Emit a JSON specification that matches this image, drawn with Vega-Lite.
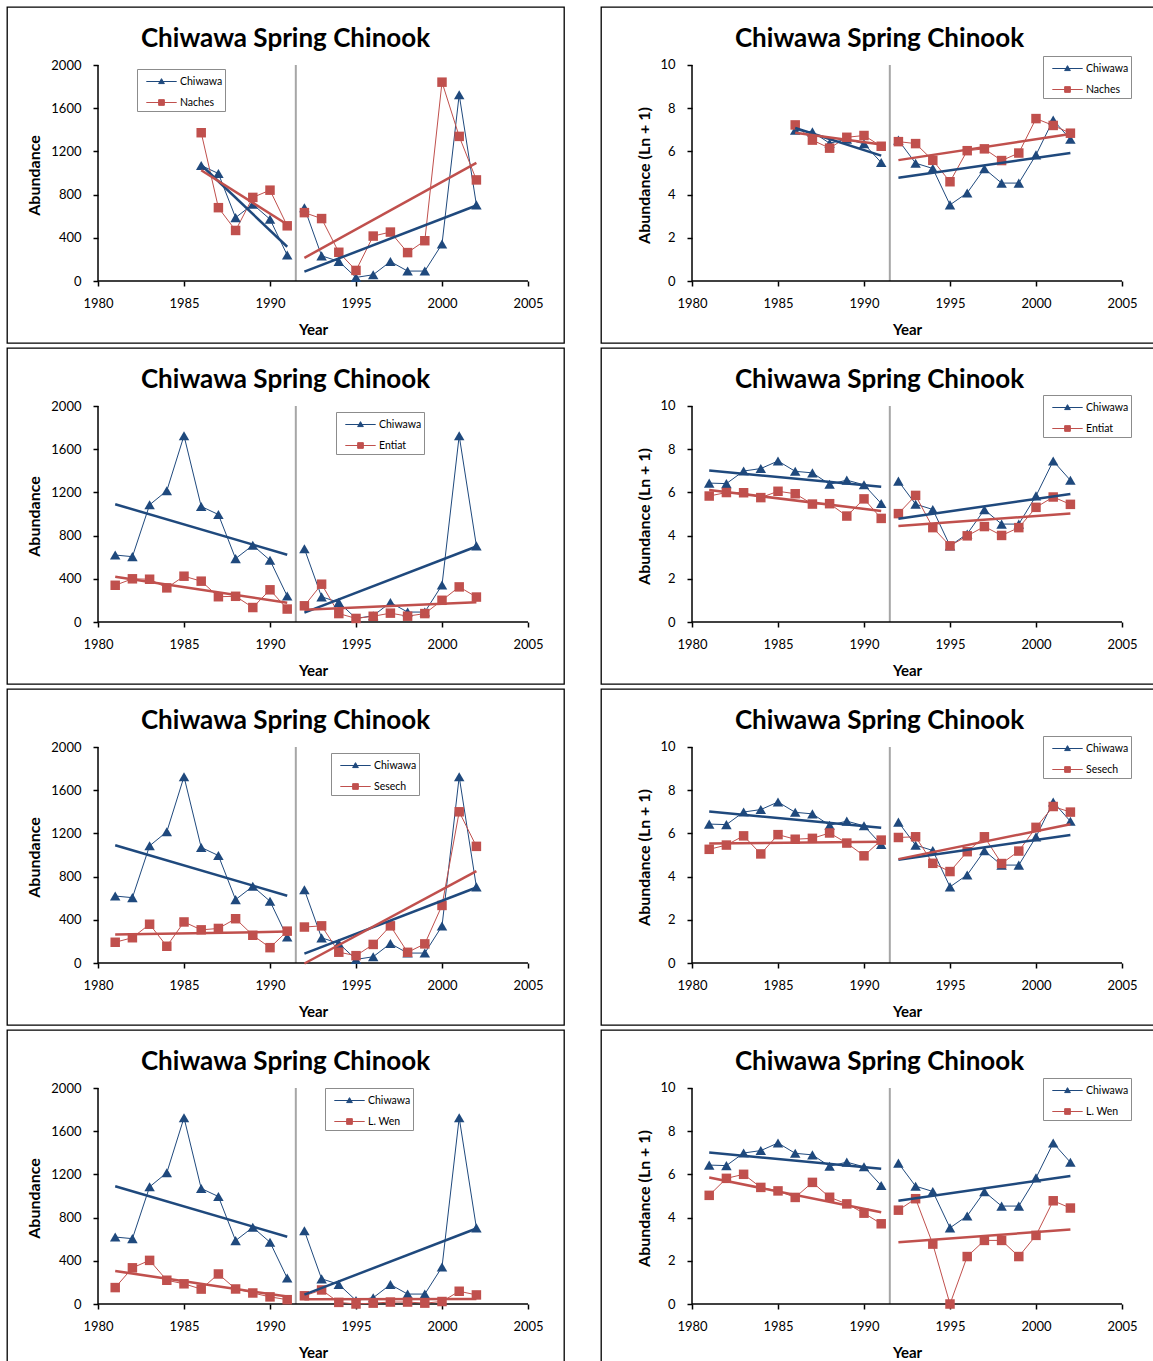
{
"$schema": "https://vega.github.io/schema/vega-lite/v6.json",
"padding": {"left": 6, "top": 6, "right": 0, "bottom": 0},
"background": "white",
"datasets": {"fish": [
{"year":1981,"series":"Chiwawa","seg":"a","abund":620,"ln":6.431},
{"year":1982,"series":"Chiwawa","seg":"a","abund":605,"ln":6.407},
{"year":1983,"series":"Chiwawa","seg":"a","abund":1085,"ln":6.990},
{"year":1984,"series":"Chiwawa","seg":"a","abund":1215,"ln":7.103},
{"year":1985,"series":"Chiwawa","seg":"a","abund":1725,"ln":7.454},
{"year":1986,"series":"Chiwawa","seg":"a","abund":1070,"ln":6.976},
{"year":1987,"series":"Chiwawa","seg":"a","abund":995,"ln":6.904},
{"year":1988,"series":"Chiwawa","seg":"a","abund":587,"ln":6.377},
{"year":1989,"series":"Chiwawa","seg":"a","abund":710,"ln":6.567},
{"year":1990,"series":"Chiwawa","seg":"a","abund":572,"ln":6.351},
{"year":1991,"series":"Chiwawa","seg":"a","abund":240,"ln":5.485},
{"year":1992,"series":"Chiwawa","seg":"b","abund":678,"ln":6.521},
{"year":1993,"series":"Chiwawa","seg":"b","abund":233,"ln":5.455},
{"year":1994,"series":"Chiwawa","seg":"b","abund":182,"ln":5.209},
{"year":1995,"series":"Chiwawa","seg":"b","abund":33,"ln":3.526},
{"year":1996,"series":"Chiwawa","seg":"b","abund":58,"ln":4.078},
{"year":1997,"series":"Chiwawa","seg":"b","abund":180,"ln":5.198},
{"year":1998,"series":"Chiwawa","seg":"b","abund":92,"ln":4.533},
{"year":1999,"series":"Chiwawa","seg":"b","abund":92,"ln":4.533},
{"year":2000,"series":"Chiwawa","seg":"b","abund":342,"ln":5.838},
{"year":2001,"series":"Chiwawa","seg":"b","abund":1725,"ln":7.454},
{"year":2002,"series":"Chiwawa","seg":"b","abund":705,"ln":6.560},
{"year":1986,"series":"Naches","seg":"a","abund":1373,"ln":7.226},
{"year":1987,"series":"Naches","seg":"a","abund":679,"ln":6.522},
{"year":1988,"series":"Naches","seg":"a","abund":468,"ln":6.151},
{"year":1989,"series":"Naches","seg":"a","abund":774,"ln":6.653},
{"year":1990,"series":"Naches","seg":"a","abund":841,"ln":6.736},
{"year":1991,"series":"Naches","seg":"a","abund":511,"ln":6.238},
{"year":1992,"series":"Naches","seg":"b","abund":633,"ln":6.452},
{"year":1993,"series":"Naches","seg":"b","abund":578,"ln":6.361},
{"year":1994,"series":"Naches","seg":"b","abund":266,"ln":5.587},
{"year":1995,"series":"Naches","seg":"b","abund":98,"ln":4.595},
{"year":1996,"series":"Naches","seg":"b","abund":416,"ln":6.033},
{"year":1997,"series":"Naches","seg":"b","abund":453,"ln":6.118},
{"year":1998,"series":"Naches","seg":"b","abund":263,"ln":5.576},
{"year":1999,"series":"Naches","seg":"b","abund":373,"ln":5.924},
{"year":2000,"series":"Naches","seg":"b","abund":1841,"ln":7.519},
{"year":2001,"series":"Naches","seg":"b","abund":1339,"ln":7.201},
{"year":2002,"series":"Naches","seg":"b","abund":936,"ln":6.843},
{"year":1981,"series":"Entiat","seg":"a","abund":340,"ln":5.832},
{"year":1982,"series":"Entiat","seg":"a","abund":400,"ln":5.994},
{"year":1983,"series":"Entiat","seg":"a","abund":396,"ln":5.984},
{"year":1984,"series":"Entiat","seg":"a","abund":316,"ln":5.759},
{"year":1985,"series":"Entiat","seg":"a","abund":424,"ln":6.052},
{"year":1986,"series":"Entiat","seg":"a","abund":378,"ln":5.938},
{"year":1987,"series":"Entiat","seg":"a","abund":234,"ln":5.460},
{"year":1988,"series":"Entiat","seg":"a","abund":238,"ln":5.477},
{"year":1989,"series":"Entiat","seg":"a","abund":134,"ln":4.905},
{"year":1990,"series":"Entiat","seg":"a","abund":298,"ln":5.700},
{"year":1991,"series":"Entiat","seg":"a","abund":120,"ln":4.796},
{"year":1992,"series":"Entiat","seg":"b","abund":150,"ln":5.017},
{"year":1993,"series":"Entiat","seg":"b","abund":350,"ln":5.861},
{"year":1994,"series":"Entiat","seg":"b","abund":78,"ln":4.369},
{"year":1995,"series":"Entiat","seg":"b","abund":33,"ln":3.526},
{"year":1996,"series":"Entiat","seg":"b","abund":53,"ln":3.989},
{"year":1997,"series":"Entiat","seg":"b","abund":82,"ln":4.419},
{"year":1998,"series":"Entiat","seg":"b","abund":54,"ln":4.007},
{"year":1999,"series":"Entiat","seg":"b","abund":78,"ln":4.369},
{"year":2000,"series":"Entiat","seg":"b","abund":201,"ln":5.308},
{"year":2001,"series":"Entiat","seg":"b","abund":325,"ln":5.787},
{"year":2002,"series":"Entiat","seg":"b","abund":231,"ln":5.447},
{"year":1981,"series":"Sesech","seg":"a","abund":192,"ln":5.263},
{"year":1982,"series":"Sesech","seg":"a","abund":234,"ln":5.460},
{"year":1983,"series":"Sesech","seg":"a","abund":359,"ln":5.886},
{"year":1984,"series":"Sesech","seg":"a","abund":155,"ln":5.050},
{"year":1985,"series":"Sesech","seg":"a","abund":380,"ln":5.943},
{"year":1986,"series":"Sesech","seg":"a","abund":307,"ln":5.730},
{"year":1987,"series":"Sesech","seg":"a","abund":320,"ln":5.771},
{"year":1988,"series":"Sesech","seg":"a","abund":410,"ln":6.019},
{"year":1989,"series":"Sesech","seg":"a","abund":257,"ln":5.553},
{"year":1990,"series":"Sesech","seg":"a","abund":142,"ln":4.963},
{"year":1991,"series":"Sesech","seg":"a","abund":295,"ln":5.690},
{"year":1992,"series":"Sesech","seg":"b","abund":333,"ln":5.811},
{"year":1993,"series":"Sesech","seg":"b","abund":344,"ln":5.844},
{"year":1994,"series":"Sesech","seg":"b","abund":100,"ln":4.615},
{"year":1995,"series":"Sesech","seg":"b","abund":68,"ln":4.234},
{"year":1996,"series":"Sesech","seg":"b","abund":172,"ln":5.153},
{"year":1997,"series":"Sesech","seg":"b","abund":344,"ln":5.844},
{"year":1998,"series":"Sesech","seg":"b","abund":99,"ln":4.605},
{"year":1999,"series":"Sesech","seg":"b","abund":177,"ln":5.182},
{"year":2000,"series":"Sesech","seg":"b","abund":533,"ln":6.280},
{"year":2001,"series":"Sesech","seg":"b","abund":1400,"ln":7.245},
{"year":2002,"series":"Sesech","seg":"b","abund":1080,"ln":6.986},
{"year":1981,"series":"L. Wen","seg":"a","abund":152,"ln":5.030},
{"year":1982,"series":"L. Wen","seg":"a","abund":335,"ln":5.817},
{"year":1983,"series":"L. Wen","seg":"a","abund":404,"ln":6.004},
{"year":1984,"series":"L. Wen","seg":"a","abund":220,"ln":5.398},
{"year":1985,"series":"L. Wen","seg":"a","abund":187,"ln":5.236},
{"year":1986,"series":"L. Wen","seg":"a","abund":138,"ln":4.934},
{"year":1987,"series":"L. Wen","seg":"a","abund":278,"ln":5.631},
{"year":1988,"series":"L. Wen","seg":"a","abund":139,"ln":4.942},
{"year":1989,"series":"L. Wen","seg":"a","abund":102,"ln":4.635},
{"year":1990,"series":"L. Wen","seg":"a","abund":66,"ln":4.205},
{"year":1991,"series":"L. Wen","seg":"a","abund":40,"ln":3.714},
{"year":1992,"series":"L. Wen","seg":"b","abund":76,"ln":4.344},
{"year":1993,"series":"L. Wen","seg":"b","abund":130,"ln":4.875},
{"year":1994,"series":"L. Wen","seg":"b","abund":15,"ln":2.773},
{"year":1995,"series":"L. Wen","seg":"b","abund":0,"ln":0},
{"year":1996,"series":"L. Wen","seg":"b","abund":8,"ln":2.197},
{"year":1997,"series":"L. Wen","seg":"b","abund":18,"ln":2.944},
{"year":1998,"series":"L. Wen","seg":"b","abund":18,"ln":2.944},
{"year":1999,"series":"L. Wen","seg":"b","abund":8,"ln":2.197},
{"year":2000,"series":"L. Wen","seg":"b","abund":23,"ln":3.178},
{"year":2001,"series":"L. Wen","seg":"b","abund":118,"ln":4.779},
{"year":2002,"series":"L. Wen","seg":"b","abund":84,"ln":4.443}
]},
"columns": 2,
"spacing": {"row": 5, "column": 37},
"bounds": "flush",
"resolve": {"scale": {"x": "independent", "y": "independent", "color": "independent", "fill": "independent", "stroke": "independent", "shape": "independent"}, "legend": {"color": "independent", "fill": "independent", "stroke": "independent", "shape": "independent"}},
"concat": [
{"width": 557, "height": 336, "title": "Chiwawa Spring Chinook",
 "layer": [
  {"data": {"values": [{}]}, "mark": {"type": "rule", "color": "#A6A6A6", "strokeWidth": 2}, "encoding": {"x": {"datum": 1991.5, "type": "quantitative", "scale": {"domain": [1974.709, 2007.093], "nice": false, "zero": false}}, "y": {"datum": 0, "type": "quantitative", "scale": {"domain": [-574.07, 2537.04], "nice": false, "zero": false}}, "y2": {"datum": 2000}}},
  {"data": {"values": [{}]}, "mark": {"type": "rule", "color": "black", "strokeWidth": 1.5}, "encoding": {"x": {"datum": 1980, "type": "quantitative"}, "x2": {"datum": 2005}, "y": {"datum": 0, "type": "quantitative"}}},
  {"data": {"values": [{}]}, "mark": {"type": "rule", "color": "black", "strokeWidth": 1.5}, "encoding": {"x": {"datum": 1980, "type": "quantitative"}, "y": {"datum": 0, "type": "quantitative"}, "y2": {"datum": 2000}}},
  {"data": {"name": "fish"}, "transform": [{"filter": {"field": "series", "oneOf": ["Chiwawa", "Naches"]}}, {"filter": {"field": "year", "gte": 1986}}],
   "encoding": {"x": {"field": "year", "type": "quantitative", "scale": {"domain": [1974.709, 2007.093], "nice": false, "zero": false}, "axis": {"title": "Year", "values": [1980, 1985, 1990, 1995, 2000, 2005], "format": "d"}}, "y": {"field": "abund", "type": "quantitative", "scale": {"domain": [-574.07, 2537.04], "nice": false, "zero": false}, "axis": {"title": "Abundance", "values": [0, 400, 800, 1200, 1600, 2000], "format": "d"}}},
   "layer": [
    {"mark": {"type": "line", "strokeWidth": 1}, "encoding": {"color": {"field": "series", "type": "nominal", "scale": {"range": ["#1F497D", "#C0504D"]}, "legend": null}, "detail": {"field": "seg"}}},
    {"transform": [{"filter": "datum.series === 'Chiwawa'"}], "mark": {"type": "point", "shape": "triangle-up", "filled": true, "size": 110, "opacity": 1}, "encoding": {"color": {"field": "series", "type": "nominal", "legend": null}}},
    {"transform": [{"filter": "datum.series !== 'Chiwawa'"}], "mark": {"type": "point", "shape": "square", "filled": true, "size": 90, "opacity": 1}, "encoding": {"color": {"field": "series", "type": "nominal", "legend": null}}},
    {"transform": [{"regression": "abund", "on": "year", "groupby": ["series", "seg"]}], "mark": {"type": "line", "strokeWidth": 2.5}, "encoding": {"color": {"field": "series", "type": "nominal", "legend": null}, "detail": {"field": "seg"}}},
    {"mark": {"type": "point", "filled": true, "opacity": 0, "strokeWidth": 1}, "encoding": {
      "fill": {"field": "series", "type": "nominal", "scale": {"domain": ["Chiwawa", "Naches"], "range": ["#1F497D", "#C0504D"]}, "legend": {"title": null, "legendX": 130, "legendY": 62}},
      "stroke": {"field": "series", "type": "nominal", "scale": {"domain": ["Chiwawa", "Naches"], "range": ["#1F497D", "#C0504D"]}, "legend": {"title": null, "legendX": 130, "legendY": 62}},
      "shape": {"field": "series", "type": "nominal", "scale": {"domain": ["Chiwawa", "Naches"], "range": ["M-1.6,0H1.6M0,-0.3L0.3,0.22H-0.3Z", "M-1.6,0H1.6M-0.3,-0.3H0.3V0.3H-0.3Z"]}, "legend": {"title": null, "legendX": 130, "legendY": 62}}}}
   ]}
 ]},
{"width": 557, "height": 336, "title": "Chiwawa Spring Chinook",
 "layer": [
  {"data": {"values": [{}]}, "mark": {"type": "rule", "color": "#A6A6A6", "strokeWidth": 2}, "encoding": {"x": {"datum": 1991.5, "type": "quantitative", "scale": {"domain": [1974.709, 2007.093], "nice": false, "zero": false}}, "y": {"datum": 0, "type": "quantitative", "scale": {"domain": [-2.87, 12.685], "nice": false, "zero": false}}, "y2": {"datum": 10}}},
  {"data": {"values": [{}]}, "mark": {"type": "rule", "color": "black", "strokeWidth": 1.5}, "encoding": {"x": {"datum": 1980, "type": "quantitative"}, "x2": {"datum": 2005}, "y": {"datum": 0, "type": "quantitative"}}},
  {"data": {"values": [{}]}, "mark": {"type": "rule", "color": "black", "strokeWidth": 1.5}, "encoding": {"x": {"datum": 1980, "type": "quantitative"}, "y": {"datum": 0, "type": "quantitative"}, "y2": {"datum": 10}}},
  {"data": {"name": "fish"}, "transform": [{"filter": {"field": "series", "oneOf": ["Chiwawa", "Naches"]}}, {"filter": {"field": "year", "gte": 1986}}],
   "encoding": {"x": {"field": "year", "type": "quantitative", "scale": {"domain": [1974.709, 2007.093], "nice": false, "zero": false}, "axis": {"title": "Year", "values": [1980, 1985, 1990, 1995, 2000, 2005], "format": "d"}}, "y": {"field": "ln", "type": "quantitative", "scale": {"domain": [-2.87, 12.685], "nice": false, "zero": false}, "axis": {"title": "Abundance (Ln + 1)", "values": [0, 2, 4, 6, 8, 10], "format": "d", "titlePadding": 7}}},
   "layer": [
    {"mark": {"type": "line", "strokeWidth": 1}, "encoding": {"color": {"field": "series", "type": "nominal", "scale": {"range": ["#1F497D", "#C0504D"]}, "legend": null}, "detail": {"field": "seg"}}},
    {"transform": [{"filter": "datum.series === 'Chiwawa'"}], "mark": {"type": "point", "shape": "triangle-up", "filled": true, "size": 110, "opacity": 1}, "encoding": {"color": {"field": "series", "type": "nominal", "legend": null}}},
    {"transform": [{"filter": "datum.series !== 'Chiwawa'"}], "mark": {"type": "point", "shape": "square", "filled": true, "size": 90, "opacity": 1}, "encoding": {"color": {"field": "series", "type": "nominal", "legend": null}}},
    {"transform": [{"regression": "ln", "on": "year", "groupby": ["series", "seg"]}], "mark": {"type": "line", "strokeWidth": 2.5}, "encoding": {"color": {"field": "series", "type": "nominal", "legend": null}, "detail": {"field": "seg"}}},
    {"mark": {"type": "point", "filled": true, "opacity": 0, "strokeWidth": 1}, "encoding": {
      "fill": {"field": "series", "type": "nominal", "scale": {"domain": ["Chiwawa", "Naches"], "range": ["#1F497D", "#C0504D"]}, "legend": {"title": null, "legendX": 442, "legendY": 49}},
      "stroke": {"field": "series", "type": "nominal", "scale": {"domain": ["Chiwawa", "Naches"], "range": ["#1F497D", "#C0504D"]}, "legend": {"title": null, "legendX": 442, "legendY": 49}},
      "shape": {"field": "series", "type": "nominal", "scale": {"domain": ["Chiwawa", "Naches"], "range": ["M-1.6,0H1.6M0,-0.3L0.3,0.22H-0.3Z", "M-1.6,0H1.6M-0.3,-0.3H0.3V0.3H-0.3Z"]}, "legend": {"title": null, "legendX": 442, "legendY": 49}}}}
   ]}
 ]},
{"width": 557, "height": 336, "title": "Chiwawa Spring Chinook",
 "layer": [
  {"data": {"values": [{}]}, "mark": {"type": "rule", "color": "#A6A6A6", "strokeWidth": 2}, "encoding": {"x": {"datum": 1991.5, "type": "quantitative", "scale": {"domain": [1974.709, 2007.093], "nice": false, "zero": false}}, "y": {"datum": 0, "type": "quantitative", "scale": {"domain": [-574.07, 2537.04], "nice": false, "zero": false}}, "y2": {"datum": 2000}}},
  {"data": {"values": [{}]}, "mark": {"type": "rule", "color": "black", "strokeWidth": 1.5}, "encoding": {"x": {"datum": 1980, "type": "quantitative"}, "x2": {"datum": 2005}, "y": {"datum": 0, "type": "quantitative"}}},
  {"data": {"values": [{}]}, "mark": {"type": "rule", "color": "black", "strokeWidth": 1.5}, "encoding": {"x": {"datum": 1980, "type": "quantitative"}, "y": {"datum": 0, "type": "quantitative"}, "y2": {"datum": 2000}}},
  {"data": {"name": "fish"}, "transform": [{"filter": {"field": "series", "oneOf": ["Chiwawa", "Entiat"]}}],
   "encoding": {"x": {"field": "year", "type": "quantitative", "scale": {"domain": [1974.709, 2007.093], "nice": false, "zero": false}, "axis": {"title": "Year", "values": [1980, 1985, 1990, 1995, 2000, 2005], "format": "d"}}, "y": {"field": "abund", "type": "quantitative", "scale": {"domain": [-574.07, 2537.04], "nice": false, "zero": false}, "axis": {"title": "Abundance", "values": [0, 400, 800, 1200, 1600, 2000], "format": "d"}}},
   "layer": [
    {"mark": {"type": "line", "strokeWidth": 1}, "encoding": {"color": {"field": "series", "type": "nominal", "scale": {"range": ["#1F497D", "#C0504D"]}, "legend": null}, "detail": {"field": "seg"}}},
    {"transform": [{"filter": "datum.series === 'Chiwawa'"}], "mark": {"type": "point", "shape": "triangle-up", "filled": true, "size": 110, "opacity": 1}, "encoding": {"color": {"field": "series", "type": "nominal", "legend": null}}},
    {"transform": [{"filter": "datum.series !== 'Chiwawa'"}], "mark": {"type": "point", "shape": "square", "filled": true, "size": 90, "opacity": 1}, "encoding": {"color": {"field": "series", "type": "nominal", "legend": null}}},
    {"transform": [{"regression": "abund", "on": "year", "groupby": ["series", "seg"]}], "mark": {"type": "line", "strokeWidth": 2.5}, "encoding": {"color": {"field": "series", "type": "nominal", "legend": null}, "detail": {"field": "seg"}}},
    {"mark": {"type": "point", "filled": true, "opacity": 0, "strokeWidth": 1}, "encoding": {
      "fill": {"field": "series", "type": "nominal", "scale": {"domain": ["Chiwawa", "Entiat"], "range": ["#1F497D", "#C0504D"]}, "legend": {"title": null, "legendX": 329, "legendY": 64}},
      "stroke": {"field": "series", "type": "nominal", "scale": {"domain": ["Chiwawa", "Entiat"], "range": ["#1F497D", "#C0504D"]}, "legend": {"title": null, "legendX": 329, "legendY": 64}},
      "shape": {"field": "series", "type": "nominal", "scale": {"domain": ["Chiwawa", "Entiat"], "range": ["M-1.6,0H1.6M0,-0.3L0.3,0.22H-0.3Z", "M-1.6,0H1.6M-0.3,-0.3H0.3V0.3H-0.3Z"]}, "legend": {"title": null, "legendX": 329, "legendY": 64}}}}
   ]}
 ]},
{"width": 557, "height": 336, "title": "Chiwawa Spring Chinook",
 "layer": [
  {"data": {"values": [{}]}, "mark": {"type": "rule", "color": "#A6A6A6", "strokeWidth": 2}, "encoding": {"x": {"datum": 1991.5, "type": "quantitative", "scale": {"domain": [1974.709, 2007.093], "nice": false, "zero": false}}, "y": {"datum": 0, "type": "quantitative", "scale": {"domain": [-2.87, 12.685], "nice": false, "zero": false}}, "y2": {"datum": 10}}},
  {"data": {"values": [{}]}, "mark": {"type": "rule", "color": "black", "strokeWidth": 1.5}, "encoding": {"x": {"datum": 1980, "type": "quantitative"}, "x2": {"datum": 2005}, "y": {"datum": 0, "type": "quantitative"}}},
  {"data": {"values": [{}]}, "mark": {"type": "rule", "color": "black", "strokeWidth": 1.5}, "encoding": {"x": {"datum": 1980, "type": "quantitative"}, "y": {"datum": 0, "type": "quantitative"}, "y2": {"datum": 10}}},
  {"data": {"name": "fish"}, "transform": [{"filter": {"field": "series", "oneOf": ["Chiwawa", "Entiat"]}}],
   "encoding": {"x": {"field": "year", "type": "quantitative", "scale": {"domain": [1974.709, 2007.093], "nice": false, "zero": false}, "axis": {"title": "Year", "values": [1980, 1985, 1990, 1995, 2000, 2005], "format": "d"}}, "y": {"field": "ln", "type": "quantitative", "scale": {"domain": [-2.87, 12.685], "nice": false, "zero": false}, "axis": {"title": "Abundance (Ln + 1)", "values": [0, 2, 4, 6, 8, 10], "format": "d", "titlePadding": 7}}},
   "layer": [
    {"mark": {"type": "line", "strokeWidth": 1}, "encoding": {"color": {"field": "series", "type": "nominal", "scale": {"range": ["#1F497D", "#C0504D"]}, "legend": null}, "detail": {"field": "seg"}}},
    {"transform": [{"filter": "datum.series === 'Chiwawa'"}], "mark": {"type": "point", "shape": "triangle-up", "filled": true, "size": 110, "opacity": 1}, "encoding": {"color": {"field": "series", "type": "nominal", "legend": null}}},
    {"transform": [{"filter": "datum.series !== 'Chiwawa'"}], "mark": {"type": "point", "shape": "square", "filled": true, "size": 90, "opacity": 1}, "encoding": {"color": {"field": "series", "type": "nominal", "legend": null}}},
    {"transform": [{"regression": "ln", "on": "year", "groupby": ["series", "seg"]}], "mark": {"type": "line", "strokeWidth": 2.5}, "encoding": {"color": {"field": "series", "type": "nominal", "legend": null}, "detail": {"field": "seg"}}},
    {"mark": {"type": "point", "filled": true, "opacity": 0, "strokeWidth": 1}, "encoding": {
      "fill": {"field": "series", "type": "nominal", "scale": {"domain": ["Chiwawa", "Entiat"], "range": ["#1F497D", "#C0504D"]}, "legend": {"title": null, "legendX": 442, "legendY": 47}},
      "stroke": {"field": "series", "type": "nominal", "scale": {"domain": ["Chiwawa", "Entiat"], "range": ["#1F497D", "#C0504D"]}, "legend": {"title": null, "legendX": 442, "legendY": 47}},
      "shape": {"field": "series", "type": "nominal", "scale": {"domain": ["Chiwawa", "Entiat"], "range": ["M-1.6,0H1.6M0,-0.3L0.3,0.22H-0.3Z", "M-1.6,0H1.6M-0.3,-0.3H0.3V0.3H-0.3Z"]}, "legend": {"title": null, "legendX": 442, "legendY": 47}}}}
   ]}
 ]},
{"width": 557, "height": 336, "title": "Chiwawa Spring Chinook",
 "layer": [
  {"data": {"values": [{}]}, "mark": {"type": "rule", "color": "#A6A6A6", "strokeWidth": 2}, "encoding": {"x": {"datum": 1991.5, "type": "quantitative", "scale": {"domain": [1974.709, 2007.093], "nice": false, "zero": false}}, "y": {"datum": 0, "type": "quantitative", "scale": {"domain": [-574.07, 2537.04], "nice": false, "zero": false}}, "y2": {"datum": 2000}}},
  {"data": {"values": [{}]}, "mark": {"type": "rule", "color": "black", "strokeWidth": 1.5}, "encoding": {"x": {"datum": 1980, "type": "quantitative"}, "x2": {"datum": 2005}, "y": {"datum": 0, "type": "quantitative"}}},
  {"data": {"values": [{}]}, "mark": {"type": "rule", "color": "black", "strokeWidth": 1.5}, "encoding": {"x": {"datum": 1980, "type": "quantitative"}, "y": {"datum": 0, "type": "quantitative"}, "y2": {"datum": 2000}}},
  {"data": {"name": "fish"}, "transform": [{"filter": {"field": "series", "oneOf": ["Chiwawa", "Sesech"]}}],
   "encoding": {"x": {"field": "year", "type": "quantitative", "scale": {"domain": [1974.709, 2007.093], "nice": false, "zero": false}, "axis": {"title": "Year", "values": [1980, 1985, 1990, 1995, 2000, 2005], "format": "d"}}, "y": {"field": "abund", "type": "quantitative", "scale": {"domain": [-574.07, 2537.04], "nice": false, "zero": false}, "axis": {"title": "Abundance", "values": [0, 400, 800, 1200, 1600, 2000], "format": "d"}}},
   "layer": [
    {"mark": {"type": "line", "strokeWidth": 1}, "encoding": {"color": {"field": "series", "type": "nominal", "scale": {"range": ["#1F497D", "#C0504D"]}, "legend": null}, "detail": {"field": "seg"}}},
    {"transform": [{"filter": "datum.series === 'Chiwawa'"}], "mark": {"type": "point", "shape": "triangle-up", "filled": true, "size": 110, "opacity": 1}, "encoding": {"color": {"field": "series", "type": "nominal", "legend": null}}},
    {"transform": [{"filter": "datum.series !== 'Chiwawa'"}], "mark": {"type": "point", "shape": "square", "filled": true, "size": 90, "opacity": 1}, "encoding": {"color": {"field": "series", "type": "nominal", "legend": null}}},
    {"transform": [{"regression": "abund", "on": "year", "groupby": ["series", "seg"]}], "mark": {"type": "line", "strokeWidth": 2.5}, "encoding": {"color": {"field": "series", "type": "nominal", "legend": null}, "detail": {"field": "seg"}}},
    {"mark": {"type": "point", "filled": true, "opacity": 0, "strokeWidth": 1}, "encoding": {
      "fill": {"field": "series", "type": "nominal", "scale": {"domain": ["Chiwawa", "Sesech"], "range": ["#1F497D", "#C0504D"]}, "legend": {"title": null, "legendX": 324, "legendY": 64}},
      "stroke": {"field": "series", "type": "nominal", "scale": {"domain": ["Chiwawa", "Sesech"], "range": ["#1F497D", "#C0504D"]}, "legend": {"title": null, "legendX": 324, "legendY": 64}},
      "shape": {"field": "series", "type": "nominal", "scale": {"domain": ["Chiwawa", "Sesech"], "range": ["M-1.6,0H1.6M0,-0.3L0.3,0.22H-0.3Z", "M-1.6,0H1.6M-0.3,-0.3H0.3V0.3H-0.3Z"]}, "legend": {"title": null, "legendX": 324, "legendY": 64}}}}
   ]}
 ]},
{"width": 557, "height": 336, "title": "Chiwawa Spring Chinook",
 "layer": [
  {"data": {"values": [{}]}, "mark": {"type": "rule", "color": "#A6A6A6", "strokeWidth": 2}, "encoding": {"x": {"datum": 1991.5, "type": "quantitative", "scale": {"domain": [1974.709, 2007.093], "nice": false, "zero": false}}, "y": {"datum": 0, "type": "quantitative", "scale": {"domain": [-2.87, 12.685], "nice": false, "zero": false}}, "y2": {"datum": 10}}},
  {"data": {"values": [{}]}, "mark": {"type": "rule", "color": "black", "strokeWidth": 1.5}, "encoding": {"x": {"datum": 1980, "type": "quantitative"}, "x2": {"datum": 2005}, "y": {"datum": 0, "type": "quantitative"}}},
  {"data": {"values": [{}]}, "mark": {"type": "rule", "color": "black", "strokeWidth": 1.5}, "encoding": {"x": {"datum": 1980, "type": "quantitative"}, "y": {"datum": 0, "type": "quantitative"}, "y2": {"datum": 10}}},
  {"data": {"name": "fish"}, "transform": [{"filter": {"field": "series", "oneOf": ["Chiwawa", "Sesech"]}}],
   "encoding": {"x": {"field": "year", "type": "quantitative", "scale": {"domain": [1974.709, 2007.093], "nice": false, "zero": false}, "axis": {"title": "Year", "values": [1980, 1985, 1990, 1995, 2000, 2005], "format": "d"}}, "y": {"field": "ln", "type": "quantitative", "scale": {"domain": [-2.87, 12.685], "nice": false, "zero": false}, "axis": {"title": "Abundance (Ln + 1)", "values": [0, 2, 4, 6, 8, 10], "format": "d", "titlePadding": 7}}},
   "layer": [
    {"mark": {"type": "line", "strokeWidth": 1}, "encoding": {"color": {"field": "series", "type": "nominal", "scale": {"range": ["#1F497D", "#C0504D"]}, "legend": null}, "detail": {"field": "seg"}}},
    {"transform": [{"filter": "datum.series === 'Chiwawa'"}], "mark": {"type": "point", "shape": "triangle-up", "filled": true, "size": 110, "opacity": 1}, "encoding": {"color": {"field": "series", "type": "nominal", "legend": null}}},
    {"transform": [{"filter": "datum.series !== 'Chiwawa'"}], "mark": {"type": "point", "shape": "square", "filled": true, "size": 90, "opacity": 1}, "encoding": {"color": {"field": "series", "type": "nominal", "legend": null}}},
    {"transform": [{"regression": "ln", "on": "year", "groupby": ["series", "seg"]}], "mark": {"type": "line", "strokeWidth": 2.5}, "encoding": {"color": {"field": "series", "type": "nominal", "legend": null}, "detail": {"field": "seg"}}},
    {"mark": {"type": "point", "filled": true, "opacity": 0, "strokeWidth": 1}, "encoding": {
      "fill": {"field": "series", "type": "nominal", "scale": {"domain": ["Chiwawa", "Sesech"], "range": ["#1F497D", "#C0504D"]}, "legend": {"title": null, "legendX": 442, "legendY": 47}},
      "stroke": {"field": "series", "type": "nominal", "scale": {"domain": ["Chiwawa", "Sesech"], "range": ["#1F497D", "#C0504D"]}, "legend": {"title": null, "legendX": 442, "legendY": 47}},
      "shape": {"field": "series", "type": "nominal", "scale": {"domain": ["Chiwawa", "Sesech"], "range": ["M-1.6,0H1.6M0,-0.3L0.3,0.22H-0.3Z", "M-1.6,0H1.6M-0.3,-0.3H0.3V0.3H-0.3Z"]}, "legend": {"title": null, "legendX": 442, "legendY": 47}}}}
   ]}
 ]},
{"width": 557, "height": 336, "title": "Chiwawa Spring Chinook",
 "layer": [
  {"data": {"values": [{}]}, "mark": {"type": "rule", "color": "#A6A6A6", "strokeWidth": 2}, "encoding": {"x": {"datum": 1991.5, "type": "quantitative", "scale": {"domain": [1974.709, 2007.093], "nice": false, "zero": false}}, "y": {"datum": 0, "type": "quantitative", "scale": {"domain": [-574.07, 2537.04], "nice": false, "zero": false}}, "y2": {"datum": 2000}}},
  {"data": {"values": [{}]}, "mark": {"type": "rule", "color": "black", "strokeWidth": 1.5}, "encoding": {"x": {"datum": 1980, "type": "quantitative"}, "x2": {"datum": 2005}, "y": {"datum": 0, "type": "quantitative"}}},
  {"data": {"values": [{}]}, "mark": {"type": "rule", "color": "black", "strokeWidth": 1.5}, "encoding": {"x": {"datum": 1980, "type": "quantitative"}, "y": {"datum": 0, "type": "quantitative"}, "y2": {"datum": 2000}}},
  {"data": {"name": "fish"}, "transform": [{"filter": {"field": "series", "oneOf": ["Chiwawa", "L. Wen"]}}],
   "encoding": {"x": {"field": "year", "type": "quantitative", "scale": {"domain": [1974.709, 2007.093], "nice": false, "zero": false}, "axis": {"title": "Year", "values": [1980, 1985, 1990, 1995, 2000, 2005], "format": "d"}}, "y": {"field": "abund", "type": "quantitative", "scale": {"domain": [-574.07, 2537.04], "nice": false, "zero": false}, "axis": {"title": "Abundance", "values": [0, 400, 800, 1200, 1600, 2000], "format": "d"}}},
   "layer": [
    {"mark": {"type": "line", "strokeWidth": 1}, "encoding": {"color": {"field": "series", "type": "nominal", "scale": {"range": ["#1F497D", "#C0504D"]}, "legend": null}, "detail": {"field": "seg"}}},
    {"transform": [{"filter": "datum.series === 'Chiwawa'"}], "mark": {"type": "point", "shape": "triangle-up", "filled": true, "size": 110, "opacity": 1}, "encoding": {"color": {"field": "series", "type": "nominal", "legend": null}}},
    {"transform": [{"filter": "datum.series !== 'Chiwawa'"}], "mark": {"type": "point", "shape": "square", "filled": true, "size": 90, "opacity": 1}, "encoding": {"color": {"field": "series", "type": "nominal", "legend": null}}},
    {"transform": [{"regression": "abund", "on": "year", "groupby": ["series", "seg"]}], "mark": {"type": "line", "strokeWidth": 2.5}, "encoding": {"color": {"field": "series", "type": "nominal", "legend": null}, "detail": {"field": "seg"}}},
    {"mark": {"type": "point", "filled": true, "opacity": 0, "strokeWidth": 1}, "encoding": {
      "fill": {"field": "series", "type": "nominal", "scale": {"domain": ["Chiwawa", "L. Wen"], "range": ["#1F497D", "#C0504D"]}, "legend": {"title": null, "legendX": 318, "legendY": 58}},
      "stroke": {"field": "series", "type": "nominal", "scale": {"domain": ["Chiwawa", "L. Wen"], "range": ["#1F497D", "#C0504D"]}, "legend": {"title": null, "legendX": 318, "legendY": 58}},
      "shape": {"field": "series", "type": "nominal", "scale": {"domain": ["Chiwawa", "L. Wen"], "range": ["M-1.6,0H1.6M0,-0.3L0.3,0.22H-0.3Z", "M-1.6,0H1.6M-0.3,-0.3H0.3V0.3H-0.3Z"]}, "legend": {"title": null, "legendX": 318, "legendY": 58}}}}
   ]}
 ]},
{"width": 557, "height": 336, "title": "Chiwawa Spring Chinook",
 "layer": [
  {"data": {"values": [{}]}, "mark": {"type": "rule", "color": "#A6A6A6", "strokeWidth": 2}, "encoding": {"x": {"datum": 1991.5, "type": "quantitative", "scale": {"domain": [1974.709, 2007.093], "nice": false, "zero": false}}, "y": {"datum": 0, "type": "quantitative", "scale": {"domain": [-2.87, 12.685], "nice": false, "zero": false}}, "y2": {"datum": 10}}},
  {"data": {"values": [{}]}, "mark": {"type": "rule", "color": "black", "strokeWidth": 1.5}, "encoding": {"x": {"datum": 1980, "type": "quantitative"}, "x2": {"datum": 2005}, "y": {"datum": 0, "type": "quantitative"}}},
  {"data": {"values": [{}]}, "mark": {"type": "rule", "color": "black", "strokeWidth": 1.5}, "encoding": {"x": {"datum": 1980, "type": "quantitative"}, "y": {"datum": 0, "type": "quantitative"}, "y2": {"datum": 10}}},
  {"data": {"name": "fish"}, "transform": [{"filter": {"field": "series", "oneOf": ["Chiwawa", "L. Wen"]}}],
   "encoding": {"x": {"field": "year", "type": "quantitative", "scale": {"domain": [1974.709, 2007.093], "nice": false, "zero": false}, "axis": {"title": "Year", "values": [1980, 1985, 1990, 1995, 2000, 2005], "format": "d"}}, "y": {"field": "ln", "type": "quantitative", "scale": {"domain": [-2.87, 12.685], "nice": false, "zero": false}, "axis": {"title": "Abundance (Ln + 1)", "values": [0, 2, 4, 6, 8, 10], "format": "d", "titlePadding": 7}}},
   "layer": [
    {"mark": {"type": "line", "strokeWidth": 1}, "encoding": {"color": {"field": "series", "type": "nominal", "scale": {"range": ["#1F497D", "#C0504D"]}, "legend": null}, "detail": {"field": "seg"}}},
    {"transform": [{"filter": "datum.series === 'Chiwawa'"}], "mark": {"type": "point", "shape": "triangle-up", "filled": true, "size": 110, "opacity": 1}, "encoding": {"color": {"field": "series", "type": "nominal", "legend": null}}},
    {"transform": [{"filter": "datum.series !== 'Chiwawa'"}], "mark": {"type": "point", "shape": "square", "filled": true, "size": 90, "opacity": 1}, "encoding": {"color": {"field": "series", "type": "nominal", "legend": null}}},
    {"transform": [{"regression": "ln", "on": "year", "groupby": ["series", "seg"]}], "mark": {"type": "line", "strokeWidth": 2.5}, "encoding": {"color": {"field": "series", "type": "nominal", "legend": null}, "detail": {"field": "seg"}}},
    {"mark": {"type": "point", "filled": true, "opacity": 0, "strokeWidth": 1}, "encoding": {
      "fill": {"field": "series", "type": "nominal", "scale": {"domain": ["Chiwawa", "L. Wen"], "range": ["#1F497D", "#C0504D"]}, "legend": {"title": null, "legendX": 442, "legendY": 48}},
      "stroke": {"field": "series", "type": "nominal", "scale": {"domain": ["Chiwawa", "L. Wen"], "range": ["#1F497D", "#C0504D"]}, "legend": {"title": null, "legendX": 442, "legendY": 48}},
      "shape": {"field": "series", "type": "nominal", "scale": {"domain": ["Chiwawa", "L. Wen"], "range": ["M-1.6,0H1.6M0,-0.3L0.3,0.22H-0.3Z", "M-1.6,0H1.6M-0.3,-0.3H0.3V0.3H-0.3Z"]}, "legend": {"title": null, "legendX": 442, "legendY": 48}}}}
   ]}
 ]}
],
"config": {
 "view": {"stroke": "black", "strokeWidth": 1.3},
 "font": "Lato",
 "title": {"font": "Lato", "fontSize": 26, "fontWeight": "bold", "color": "black", "anchor": "middle", "frame": "group", "offset": -45, "baseline": "alphabetic"},
 "axis": {"domain": false, "grid": false, "labelFont": "Lato", "labelFontSize": 13, "labelColor": "black", "tickColor": "black", "tickSize": 5, "tickWidth": 1.5, "titleFont": "Lato", "titleFontWeight": "bold", "titleColor": "black", "labelFlush": false, "labelOverlap": false},
 "axisX": {"offset": -62, "titleX": 306, "labelPadding": 11, "titlePadding": 12, "titleFontSize": 15},
 "axisY": {"offset": -91, "labelPadding": 12, "titlePadding": 8, "titleFontSize": 16, "minExtent": 0},
 "legend": {"orient": "none", "strokeColor": "#8c8c8c", "strokeWidth": 1, "fillColor": "white", "padding": 2.5, "symbolSize": 361, "symbolOffset": 12, "labelOffset": 8.5, "rowPadding": 5, "labelFont": "Lato", "labelFontSize": 10.5, "labelColor": "black", "symbolStrokeWidth": 1, "symbolOpacity": 1}
}
}
